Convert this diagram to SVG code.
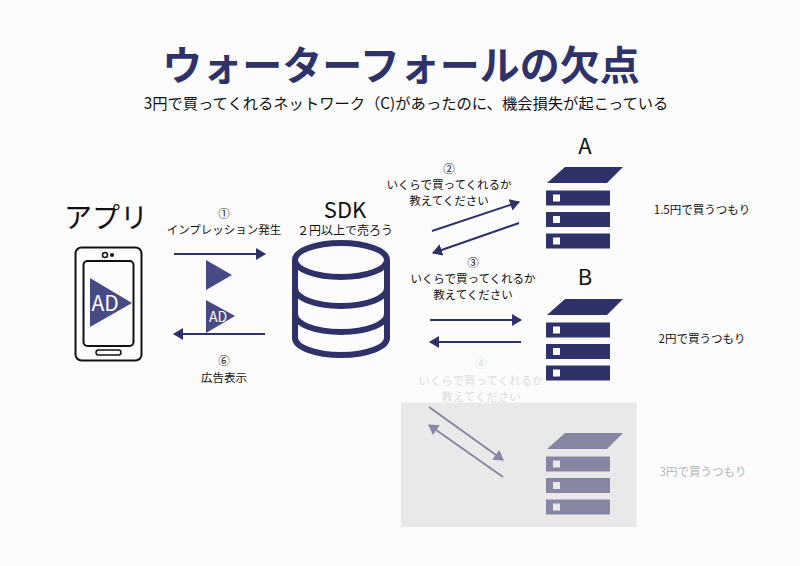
<svg xmlns="http://www.w3.org/2000/svg" width="800" height="566" viewBox="0 0 800 566">
<style>
text{font-family:"Noto Sans CJK JP","Noto Sans",sans-serif;text-anchor:middle;fill:#111}
.s{font-size:11.5px}
.f{fill:#d8d8d8}
.c{stroke:#2e3269;stroke-width:2;fill:none}
.n{fill:#2e3269}
.w{fill:#fcfcfc}
</style>
<defs>
<marker id="ah" markerUnits="userSpaceOnUse" markerWidth="10" markerHeight="12" refX="9" refY="6" orient="auto"><path d="M0 0L10 6L0 12Z" fill="#2e3269"/></marker>
<marker id="ahf" markerUnits="userSpaceOnUse" markerWidth="10" markerHeight="12" refX="9" refY="6" orient="auto"><path d="M0 0L10 6L0 12Z" fill="#8787a3"/></marker>
<g id="srv">
<path d="M565 167H623L607 183H547Z"/>
<rect x="546" y="190.500" width="64" height="15"/>
<rect x="546" y="212" width="64" height="15"/>
<rect x="546" y="233.500" width="64" height="15"/>
</g>
</defs>
<rect width="800" height="566" fill="#fcfcfc"/>
<text id="title" x="401" y="80" font-size="40" font-weight="700" style="fill:#2e3269">ウォーターフォールの欠点</text>
<text id="subtitle" x="406" y="109" font-size="15.300">3円で買ってくれるネットワーク（C)があったのに、機会損失が起こっている</text>
<g id="app">
<text x="106" y="228" font-size="28">アプリ</text>
<rect x="75.500" y="247.500" width="66" height="113" rx="6" fill="#fcfcfc" stroke="#111" stroke-width="2"/>
<rect x="83.500" y="261" width="50" height="85" rx="4" fill="#fcfcfc" stroke="#111" stroke-width="2"/>
<rect x="96" y="350" width="25" height="5" rx="2.500" fill="none" stroke="#111" stroke-width="1.500"/>
<circle cx="105" cy="255" r="2.500" fill="none" stroke="#111" stroke-width="1.500"/>
<circle cx="112" cy="255" r="2" fill="#111"/>
<path d="M90 278V327L132 303Z" fill="#464a85"/>
<text x="105" y="311" font-size="21" style="fill:#fff">AD</text>
</g>
<g id="sdk">
<text x="345" y="218" font-size="22">SDK</text>
<text x="345" y="235" font-size="12">２円以上で売ろう</text>
<g fill="none" stroke="#2e3269" stroke-width="6">
<ellipse cx="341" cy="260" rx="46" ry="17"/>
<path d="M295 260V338C295 347 315 355 341 355S387 347 387 338V260"/>
<path d="M295 288C295 298 315 306 341 306S387 298 387 288"/>
<path d="M295 314C295 324 315 332 341 332S387 324 387 314"/>
</g>
</g>
<g id="flow-ad">
<path d="M206 260V290L232 275Z" fill="#464a85"/>
<path d="M206 300V333L235 316Z" fill="#464a85"/>
<text x="218" y="322" font-size="14" style="fill:#fff">AD</text>
</g>
<g id="connectors">
<path class="c" d="M174 254H265" marker-end="url(#ah)"/>
<path class="c" d="M265 334H174" marker-end="url(#ah)"/>
<path class="c" d="M432 231L519 202" marker-end="url(#ah)"/>
<path class="c" d="M519 223L433 253" marker-end="url(#ah)"/>
<path class="c" d="M430 320H521" marker-end="url(#ah)"/>
<path class="c" d="M521 342H430" marker-end="url(#ah)"/>
</g>
<g id="labels">
<text class="s" x="224" y="218">①</text>
<text class="s" x="224" y="234">インプレッション発生</text>
<text class="s" x="224" y="365">⑥</text>
<text class="s" x="224" y="382">広告表示</text>
<text class="s" x="449" y="173">②</text>
<text class="s" x="449" y="189">いくらで買ってくれるか</text>
<text class="s" x="449" y="205">教えてください</text>
<text class="s" x="473" y="267">③</text>
<text class="s" x="473" y="283">いくらで買ってくれるか</text>
<text class="s" x="473" y="299">教えてください</text>
<text class="s f" x="481" y="368" style="fill:#dcdcdc">④</text>
<text class="s f" x="481" y="385" style="fill:#dcdcdc">いくらで買ってくれるか</text>
<text class="s f" x="481" y="401" style="fill:#dcdcdc">教えてください</text>
</g>
<g id="server-a">
<text x="585" y="154" font-size="22">A</text>
<use href="#srv" class="n"/>
<rect class="w" x="553" y="194.500" width="7" height="7"/><rect class="w" x="553" y="216" width="7" height="7"/><rect class="w" x="553" y="237.500" width="7" height="7"/>
<text class="s" x="702" y="214">1.5円で買うつもり</text>
</g>
<g id="server-b">
<text x="585" y="285" font-size="22">B</text>
<use href="#srv" class="n" y="132"/>
<rect class="w" x="553" y="326.500" width="7" height="7"/><rect class="w" x="553" y="348" width="7" height="7"/><rect class="w" x="553" y="369.500" width="7" height="7"/>
<text class="s" x="702" y="343">2円で買うつもり</text>
</g>
<g id="network-c">
<rect x="401" y="402.500" width="235.500" height="124.500" fill="#e9e9e9"/>
<path d="M429 407L503 460" stroke="#8787a3" stroke-width="2" fill="none" marker-end="url(#ahf)"/>
<path d="M503 477L429 425" stroke="#8787a3" stroke-width="2" fill="none" marker-end="url(#ahf)"/>
<use href="#srv" fill="#8787a3" y="266"/>
<g fill="#e9e9e9"><rect x="553" y="460.500" width="7" height="7"/><rect x="553" y="482" width="7" height="7"/><rect x="553" y="503.500" width="7" height="7"/></g>
<text class="s" x="703" y="476" style="fill:#b5b5b5">3円で買うつもり</text>
</g>
</svg>
